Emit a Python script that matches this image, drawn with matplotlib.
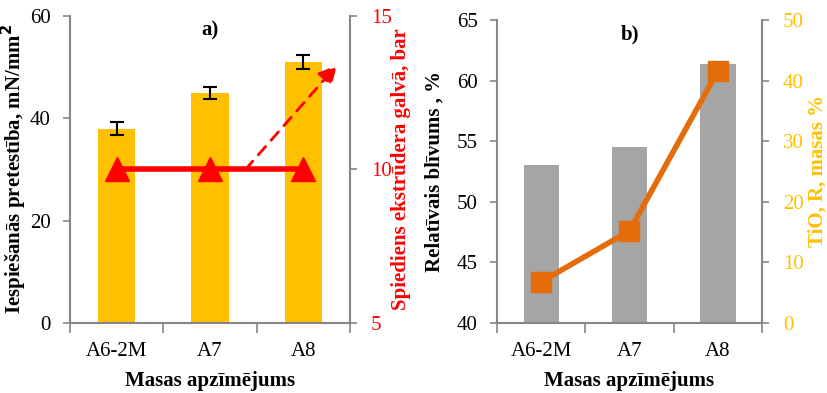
import numpy as np
import matplotlib.pyplot as plt

plt.rcParams['font.family'] = ['Liberation Serif', 'DejaVu Serif']

## data
categories = ['A6-2M', 'A7', 'A8']
resistance = [38, 45, 51]            # mN/mm2
resistance_err = [1.2, 1.2, 1.3]
pressure = [10, 10, 10]              # bar
density = [53.0, 54.5, 61.4]         # %
tio2 = [6.8, 15.2, 41.6]             # masas %

grey_ax = '#868686'
yellow = '#FFC000'
red = '#FF0000'
orange = '#E46C0A'
bar_w = 0.4
x = np.arange(len(categories))


def style_axes(ax, ax2, tick_color2, h_px):
    for a in (ax, ax2):
        for s in a.spines.values():
            s.set_visible(False)
    ax.spines['left'].set_visible(True)
    ax.spines['bottom'].set_visible(True)
    ax2.spines['right'].set_visible(True)
    for s in (ax.spines['left'], ax.spines['bottom'], ax2.spines['right']):
        s.set_color(grey_ax)
        s.set_linewidth(1.5)
    ax.tick_params(axis='y', direction='out', length=5, color=grey_ax, width=1.2, labelsize=15, pad=9)
    ax2.tick_params(axis='y', direction='out', length=5, color=grey_ax, width=1.2, labelsize=15,
                    labelcolor=tick_color2, pad=10)
    ax.set_xticks(x)
    ax.set_xticklabels(categories)
    ax.set_xticks([-0.5, 0.5, 1.5, 2.5], minor=True)
    ax.tick_params(axis='x', which='major', length=0, labelsize=15, pad=14)
    ax.tick_params(axis='x', which='minor', direction='out', length=7, color=grey_ax, width=1.2)
    ax.set_xlim(-0.5, 2.5)
    ax.set_xlabel('Masas apzīmējums', fontsize=15, fontweight='bold')
    ax.xaxis.set_label_coords(0.5, -48 / h_px)


fig = plt.figure(figsize=(8.27, 3.93), dpi=100)

## panel a
ax1 = fig.add_axes([70 / 827, 70 / 393, 280 / 827, 307 / 393])
ax1b = ax1.twinx()
ax1.bar(x, resistance, bar_w, color=yellow, zorder=2)
ax1.errorbar(x, resistance, yerr=resistance_err, fmt='none', ecolor='black', elinewidth=1.5,
             capsize=5, capthick=1.5, zorder=3)
ax1.set_ylim(0, 60)
ax1.set_yticks([0, 20, 40, 60])
ax1b.plot(x, pressure, color=red, linewidth=4, marker='^', markersize=17, zorder=4)
ax1b.annotate('', xy=(2.36, 13.4), xytext=(1.38, 10.0),
              arrowprops=dict(arrowstyle='-|>,head_length=1.1,head_width=0.55', color=red,
                              linestyle=(0, (4, 3)), linewidth=2, shrinkA=0, shrinkB=0))
ax1b.set_ylim(5, 15)
ax1b.set_yticks([5, 10, 15])
style_axes(ax1, ax1b, red, 307)
ax1.set_ylabel('Iespiešanās pretestība, mN/mm$^\\mathbf{2}$', fontsize=15, fontweight='bold')
ax1.yaxis.set_label_coords(-41 / 280, 0.5)
ax1b.set_ylabel('Spiediens ekstrūdera galvā, bar', fontsize=15, fontweight='bold', color=red)
ax1b.yaxis.set_label_coords(1 + 41 / 280, 0.5)
ax1.text(0.5, 0.985, 'a)', transform=ax1.transAxes, ha='center', va='top', fontsize=15, fontweight='bold')

## panel b
ax2 = fig.add_axes([497 / 827, 70 / 393, 265 / 827, 303 / 393])
ax2b = ax2.twinx()
ax2.bar(x, density, bar_w, color='#A5A5A5', zorder=2)
ax2.set_ylim(40, 65)
ax2.set_yticks([40, 45, 50, 55, 60, 65])
ax2b.plot(x, tio2, color=orange, linewidth=4, marker='s', markersize=15, zorder=4)
ax2b.annotate('', xy=(2.6, 25.2), xytext=(1.37, 23.8),
              arrowprops=dict(arrowstyle='-|>,head_length=1.1,head_width=0.55', color=yellow,
                              linestyle=(0, (4, 3)), linewidth=2, shrinkA=0, shrinkB=0))
ax2b.set_ylim(0, 50)
ax2b.set_yticks([0, 10, 20, 30, 40, 50])
style_axes(ax2, ax2b, yellow, 303)
ax2.set_ylabel('Relatīvais blīvums , %', fontsize=15, fontweight='bold')
ax2.yaxis.set_label_coords(-52 / 265, 0.5)
ax2b.set_ylabel('TiO, R, masas %', fontsize=15, fontweight='bold', color=yellow)
ax2b.yaxis.set_label_coords(1 + 46 / 265, 0.5)
ax2.text(0.5, 0.985, 'b)', transform=ax2.transAxes, ha='center', va='top', fontsize=15, fontweight='bold')

fig.savefig('out.png', dpi=100)
